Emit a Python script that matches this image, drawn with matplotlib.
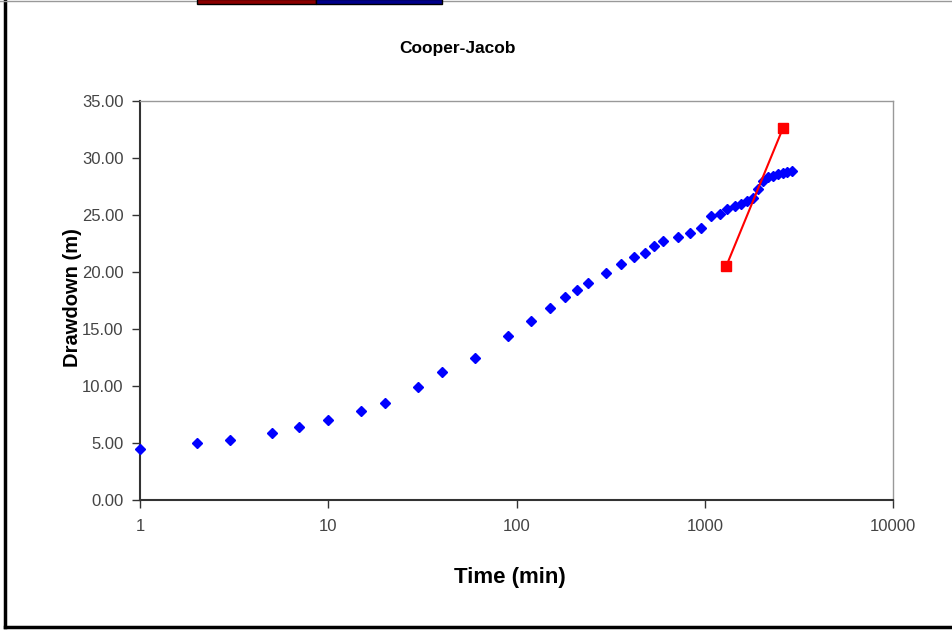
import matplotlib.pyplot as plt
from matplotlib.patches import Rectangle
from matplotlib.lines import Line2D
import matplotlib.ticker as mticker

# observed drawdown data
time_min = [1, 2, 3, 5, 7, 10, 15, 20, 30, 40, 60, 90, 120, 150, 180, 210, 240,
            300, 360, 420, 480, 540, 600, 720, 840, 960, 1080, 1200, 1320, 1440,
            1560, 1680, 1800, 1920, 2040, 2160, 2310, 2460, 2610, 2750, 2900]
drawdown_m = [4.47, 5.00, 5.26, 5.88, 6.40, 7.00, 7.80, 8.50, 9.90, 11.20, 12.50,
              14.40, 15.70, 16.80, 17.80, 18.40, 19.06, 19.90, 20.70, 21.30, 21.70,
              22.30, 22.70, 23.10, 23.40, 23.90, 24.90, 25.10, 25.50, 25.80, 26.00,
              26.20, 26.50, 27.30, 28.00, 28.30, 28.40, 28.60, 28.70, 28.80, 28.90]

# fitted straight line (two points)
fit_time = [1300, 2600]
fit_drawdown = [20.5, 32.6]

yticks = [0, 5, 10, 15, 20, 25, 30, 35]
xticks = [1, 10, 100, 1000, 10000]

plt.rcParams['font.family'] = ['Liberation Sans', 'DejaVu Sans']

fig = plt.figure(figsize=(9.52, 6.30), dpi=100)
ax = fig.add_axes([140/952, 130/630, 753/952, 399/630])

ax.plot(time_min, drawdown_m, linestyle='none', marker='D', markersize=5,
        color='#0000FF', clip_on=False, zorder=3)
ax.plot(fit_time, fit_drawdown, color='#FF0000', linewidth=1.5, marker='s',
        markersize=6.5, zorder=4)

ax.set_xscale('log')
ax.set_xlim(1, 10000)
ax.set_ylim(0, 35)
ax.set_xticks(xticks)
ax.xaxis.set_major_formatter(mticker.FuncFormatter(lambda v, p: '%d' % v))
ax.xaxis.set_minor_locator(mticker.NullLocator())
ax.set_yticks(yticks)
ax.yaxis.set_major_formatter(mticker.FormatStrFormatter('%.2f'))
ax.tick_params(axis='both', direction='out', length=6, width=1, colors='#333333',
               labelsize=12, labelcolor='#444444')
ax.tick_params(axis='x', pad=8)
ax.tick_params(axis='y', pad=6)

for side in ['left', 'bottom']:
    ax.spines[side].set_color('#333333')
    ax.spines[side].set_linewidth(1.5)
for side in ['top', 'right']:
    ax.spines[side].set_color('#999999')
    ax.spines[side].set_linewidth(1)

fig.text(457/952, 1 - 48/630, 'Cooper-Jacob', ha='center', va='center',
         fontsize=12.5, fontweight='bold')
fig.text(73/952, 1 - 298/630, 'Drawdown (m)', ha='center', va='center',
         rotation=90, fontsize=14.5, fontweight='bold')
fig.text(510/952, 1 - 578/630, 'Time (min)', ha='center', va='center',
         fontsize=16, fontweight='bold')

# outer frame: black left and bottom, thin grey top
fig.lines.append(Line2D([5/952, 5/952], [3/630, 1], transform=fig.transFigure,
                        color='black', linewidth=2.5))
fig.lines.append(Line2D([5/952, 1], [3/630, 3/630], transform=fig.transFigure,
                        color='black', linewidth=2.5))
fig.lines.append(Line2D([0, 1], [1 - 0.5/630, 1 - 0.5/630], transform=fig.transFigure,
                        color='#999999', linewidth=1))

# coloured bar at the top edge
fig.patches.append(Rectangle((197/952, 1 - 4/630), 119/952, 5/630, transform=fig.transFigure,
                             facecolor='#8B0000', edgecolor='black', linewidth=1,
                             zorder=5))
fig.patches.append(Rectangle((316/952, 1 - 4/630), 126/952, 5/630, transform=fig.transFigure,
                             facecolor='#00008B', edgecolor='black', linewidth=1,
                             zorder=5))

fig.savefig('out.png', dpi=100)
